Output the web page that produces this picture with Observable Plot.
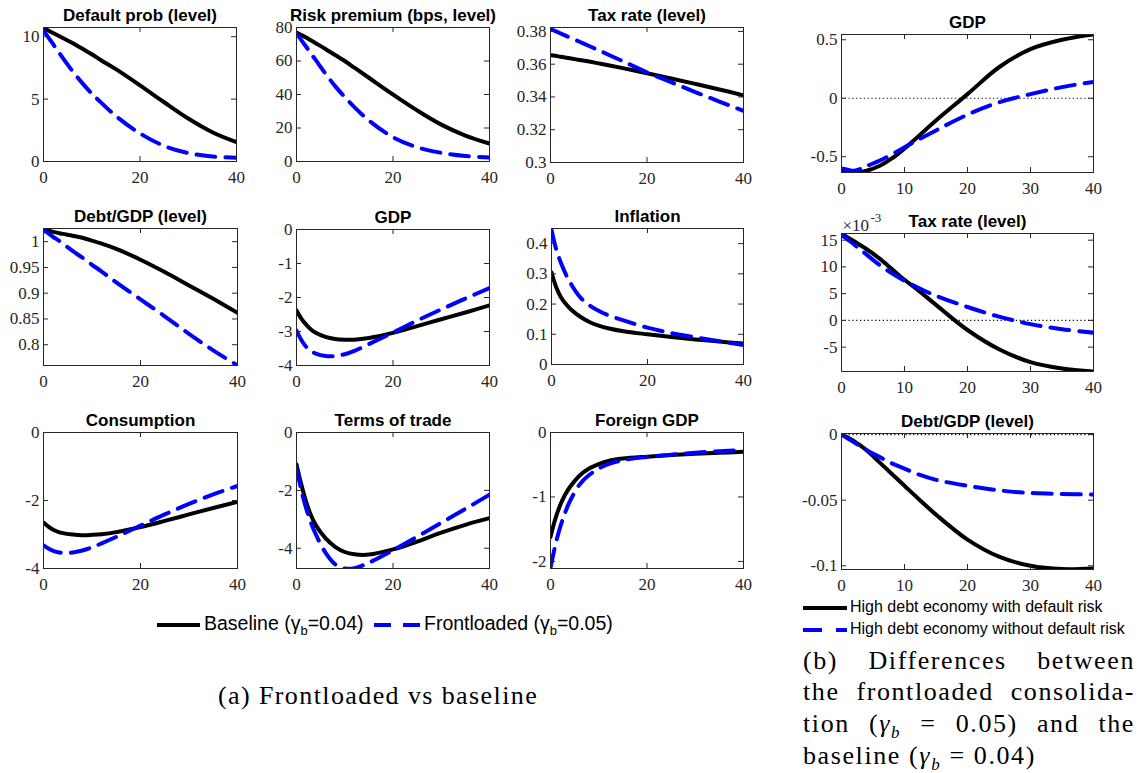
<!DOCTYPE html>
<html><head><meta charset="utf-8">
<script src="https://cdn.jsdelivr.net/npm/d3@7"></script>
<script src="https://cdn.jsdelivr.net/npm/@observablehq/plot@0.6"></script>
<style>
body{margin:0;background:#fff;}
#root{position:relative;width:1142px;height:773px;overflow:hidden;background:#fff;}
.panel{position:absolute;}
.panel text{font-family:'Liberation Serif','Times New Roman',serif;}
.panel g[font-weight="bold"] text{font-family:'Liberation Sans',Arial,sans-serif;}
.lg{position:absolute;font-family:"Liberation Sans",Arial,sans-serif;color:#000;white-space:nowrap;}
.cap{position:absolute;font-family:"Liberation Serif","Times New Roman",serif;color:#000;white-space:nowrap;}
.capline{position:absolute;left:0;width:332px;font-family:"Liberation Serif","Times New Roman",serif;font-size:26px;letter-spacing:1.6px;text-align:justify;text-align-last:justify;white-space:nowrap;}
</style></head><body><div id="root"></div>
<script>
// ---------------- data ----------------
const steps = [0, 1, 2, 3, 4, 6, 8, 10, 12, 15, 20, 25, 30, 35, 40];

// Panel (a): Frontloaded vs baseline
const defaultProbBase  = [10.72, 10.5, 10.3, 10.1, 9.9, 9.5, 9.05, 8.6, 8.1, 7.4, 6.1, 4.75, 3.45, 2.35, 1.55];
const defaultProbFront = [10.5, 9.95, 9.4, 8.85, 8.3, 7.25, 6.3, 5.45, 4.7, 3.65, 2.25, 1.25, 0.68, 0.4, 0.3];
const riskPremBase  = [77, 75.5, 74, 72.3, 70.6, 67.2, 63.6, 60, 56, 50, 40, 30.5, 22, 15.5, 10.7];
const riskPremFront = [76.5, 72.5, 68.5, 64.5, 60.5, 52.5, 45, 38.5, 32.5, 24.5, 14.5, 8.5, 5.2, 3.3, 2.3];
const taxBase  = [0.3655, 0.3651, 0.3646, 0.3641, 0.3636, 0.3626, 0.3616, 0.3605, 0.3594, 0.3576, 0.3545, 0.3513, 0.348, 0.3446, 0.341];
const taxFront = [0.3815, 0.3802, 0.3789, 0.3776, 0.3763, 0.3737, 0.3711, 0.3685, 0.3658, 0.3618, 0.355, 0.349, 0.343, 0.3372, 0.3315];
const debtBase  = [1.022, 1.021, 1.019, 1.017, 1.015, 1.0115, 1.0075, 1.002, 0.996, 0.986, 0.965, 0.941, 0.915, 0.889, 0.862];
const debtFront = [1.022, 1.016, 1.009, 1.003, 0.996, 0.982, 0.969, 0.955, 0.942, 0.921, 0.888, 0.855, 0.821, 0.789, 0.76];
const gdpBase  = [-2.38, -2.62, -2.8, -2.94, -3.04, -3.16, -3.22, -3.24, -3.24, -3.19, -3.04, -2.84, -2.64, -2.44, -2.23];
const gdpFront = [-2.97, -3.25, -3.45, -3.57, -3.65, -3.72, -3.72, -3.67, -3.57, -3.37, -3.03, -2.68, -2.35, -2.03, -1.72];
const inflBase  = [0.305, 0.255, 0.222, 0.2, 0.183, 0.158, 0.14, 0.128, 0.119, 0.11, 0.1, 0.091, 0.083, 0.076, 0.069];
const inflFront = [0.445, 0.38, 0.335, 0.298, 0.268, 0.222, 0.195, 0.176, 0.162, 0.146, 0.122, 0.104, 0.09, 0.077, 0.064];
const consBase  = [-2.65, -2.77, -2.86, -2.92, -2.96, -3.0, -3.02, -3.01, -2.99, -2.93, -2.78, -2.6, -2.41, -2.22, -2.04];
const consFront = [-3.32, -3.41, -3.48, -3.52, -3.54, -3.53, -3.47, -3.38, -3.26, -3.07, -2.74, -2.41, -2.1, -1.82, -1.57];
const totBase  = [-1.1, -1.8, -2.4, -2.86, -3.2, -3.65, -3.95, -4.13, -4.21, -4.22, -4.04, -3.77, -3.46, -3.19, -2.96];
const totFront = [-1.2, -2.0, -2.62, -3.12, -3.52, -4.15, -4.55, -4.7, -4.69, -4.5, -4.07, -3.6, -3.12, -2.64, -2.15];
const forGdpBase  = [-1.62, -1.34, -1.13, -0.97, -0.85, -0.67, -0.56, -0.49, -0.44, -0.405, -0.375, -0.35, -0.33, -0.315, -0.3];
const forGdpFront = [-2.1, -1.75, -1.47, -1.25, -1.07, -0.81, -0.66, -0.56, -0.49, -0.43, -0.38, -0.345, -0.315, -0.29, -0.275];

// Panel (b): differences frontloaded - baseline
const dGdpRisk   = [-0.61, -0.628, -0.635, -0.632, -0.62, -0.58, -0.515, -0.43, -0.335, -0.19, 0.035, 0.265, 0.42, 0.5, 0.545];
const dGdpNoRisk = [-0.6, -0.612, -0.62, -0.605, -0.58, -0.535, -0.48, -0.42, -0.36, -0.275, -0.14, -0.035, 0.035, 0.095, 0.14];
const dTaxRisk   = [16.2, 15.5, 14.8, 14.05, 13.3, 11.6, 9.6, 7.6, 5.8, 2.9, -1.8, -5.4, -7.8, -9.0, -9.55];   // ×10^-3
const dTaxNoRisk = [16.0, 15.1, 14.2, 13.25, 12.3, 10.4, 8.8, 7.4, 6.2, 4.6, 2.5, 0.7, -0.7, -1.65, -2.3];   // ×10^-3
const dDebtRisk   = [0, -0.0023, -0.005, -0.0083, -0.012, -0.021, -0.03, -0.039, -0.048, -0.061, -0.08, -0.093, -0.1, -0.1025, -0.102];
const dDebtNoRisk = [0, -0.003, -0.006, -0.009, -0.012, -0.017, -0.022, -0.026, -0.03, -0.0345, -0.039, -0.0425, -0.0445, -0.0453, -0.0457];

// tick labels
const xTicksA = [0, 20, 40];
const xTicksB = [0, 10, 20, 30, 40];

// ---------------- layout / styles ----------------
const panels = [
  {title:"Default prob (level)",      base:defaultProbBase, front:defaultProbFront, box:[43,27,236,161],  y:[0,10.74],        yt:[0,5,10], xt:xTicksA},
  {title:"Risk premium (bps, level)", base:riskPremBase,   front:riskPremFront,   box:[296,27,489,161], y:[0,80],           yt:[0,20,40,60,80], xt:xTicksA},
  {title:"Tax rate (level)",          base:taxBase,        front:taxFront,        box:[550,27,743,162], y:[0.3,0.3824],     yt:[0.3,0.32,0.34,0.36,0.38], xt:xTicksA},
  {title:"Debt/GDP (level)",          base:debtBase,       front:debtFront,       box:[43,228,237,365], y:[0.7597,1.0255],  yt:[0.8,0.85,0.9,0.95,1], xt:xTicksA},
  {title:"GDP",                       base:gdpBase,        front:gdpFront,        box:[296,229,489,365],y:[-4,0],           yt:[-4,-3,-2,-1,0], xt:xTicksA},
  {title:"Inflation",                 base:inflBase,       front:inflFront,       box:[551,228,743,364],y:[0,0.45],         yt:[0,0.1,0.2,0.3,0.4], xt:xTicksA},
  {title:"Consumption",               base:consBase,       front:consFront,       box:[43,432,237,568], y:[-4,0],           yt:[-4,-2,0], xt:xTicksA},
  {title:"Terms of trade",            base:totBase,        front:totFront,        box:[296,432,489,568],y:[-4.7,0],         yt:[-4,-2,0], xt:xTicksA},
  {title:"Foreign GDP",               base:forGdpBase,     front:forGdpFront,     box:[550,432,743,568],y:[-2.11,0],        yt:[-2,-1,0], xt:xTicksA},
  {title:"GDP",                       base:dGdpRisk,       front:dGdpNoRisk,      box:[841,34,1093,172],y:[-0.635,0.545],   yt:[-0.5,0,0.5], xt:xTicksB, zero:true},
  {title:"Tax rate (level)",          base:dTaxRisk,       front:dTaxNoRisk,      box:[841,233,1093,371],y:[-9.56,16.25],   yt:[-5,0,5,10,15], xt:xTicksB, zero:true, exp:true},
  {title:"Debt/GDP (level)",          base:dDebtRisk,      front:dDebtNoRisk,     box:[841,433,1093,569],y:[-0.1028,0.0008],yt:[-0.1,-0.05,0], xt:xTicksB, zero:true}
];

const AX = "#262626";
const SERIF = "'Liberation Serif', 'Times New Roman', serif";
const SANS = "'Liberation Sans', Arial, sans-serif";
const root = document.getElementById("root");

function makePanel(cfg){
  const mL = 70, mR = 14, mT = 34, mB = 32;
  const [x0,y0,x1,y1] = cfg.box;
  const w = x1 - x0, h = y1 - y0, tl = 5;
  const data = steps.map((t,i) => ({t, base: cfg.base[i], front: cfg.front[i]}));
  const marks = [];
  if (cfg.zero) marks.push(Plot.ruleY([0], {stroke:"#000", strokeWidth:1.2, strokeDasharray:"1.2,2.6"}));
  marks.push(
    Plot.line(data, {x:"t", y:"base", stroke:"#000", strokeWidth:4, curve:"catmull-rom", clip:true}),
    Plot.line(data, {x:"t", y:"front", stroke:"#0000ff", strokeWidth:4, strokeDasharray:"19,10", curve:"catmull-rom", clip:true}),
    Plot.frame({stroke:AX, strokeWidth:1}),
    Plot.tickY(cfg.yt, {y:d=>d, stroke:AX, insetRight:w-tl}),
    Plot.tickY(cfg.yt, {y:d=>d, stroke:AX, insetLeft:w-tl}),
    Plot.tickX(cfg.xt, {x:d=>d, stroke:AX, insetTop:h-tl}),
    Plot.tickX(cfg.xt, {x:d=>d, stroke:AX, insetBottom:h-tl}),
    Plot.axisY(cfg.yt, {tickSize:0, tickPadding:4, label:null, fontSize:17, fontFamily:SERIF, color:AX, tickFormat:d=>String(d)}),
    Plot.axisX(cfg.xt, {tickSize:0, tickPadding:9, label:null, fontSize:17, fontFamily:SERIF, color:AX, tickFormat:d=>String(d)}),
    Plot.text([cfg.title], {frameAnchor:"top", dy:-7, lineAnchor:"bottom", fontWeight:"bold", fontSize:17, fontFamily:SANS, fill:"#000"})
  );
  if (cfg.exp){
    marks.push(
      Plot.text(["×10"], {frameAnchor:"top-left", dx:1, dy:-3, lineAnchor:"bottom", textAnchor:"start", fontSize:17, fontFamily:SERIF, fill:AX}),
      Plot.text(["-3"], {frameAnchor:"top-left", dx:29, dy:-12, lineAnchor:"bottom", textAnchor:"start", fontSize:13, fontFamily:SERIF, fill:AX})
    );
  }
  const svg = Plot.plot({
    width: w + mL + mR, height: h + mT + mB,
    marginLeft: mL, marginRight: mR, marginTop: mT, marginBottom: mB,
    x: {domain:[0,40], label:null},
    y: {domain: cfg.y, label:null},
    style: {background:"transparent", overflow:"visible", fontFamily:SERIF, fontSize:"17px", color:AX},
    marks
  });
  svg.classList.add("panel");
  svg.style.left = (x0 - mL) + "px";
  svg.style.top = (y0 - mT) + "px";
  root.appendChild(svg);
}
panels.forEach(makePanel);

// ---------------- legends & captions ----------------
function addHTML(html){ const d = document.createElement("div"); d.innerHTML = html; while (d.firstChild) root.appendChild(d.firstChild); }
addHTML(`
<svg style="position:absolute;left:0;top:0" width="1142" height="773">
  <line x1="157" y1="625" x2="200" y2="625" stroke="#000" stroke-width="4"/>
  <line x1="374" y1="625" x2="420" y2="625" stroke="#0000ff" stroke-width="4" stroke-dasharray="17,12"/>
  <line x1="803" y1="608" x2="847" y2="608" stroke="#000" stroke-width="4"/>
  <line x1="803" y1="630" x2="847" y2="630" stroke="#0000ff" stroke-width="4" stroke-dasharray="19,14"/>
</svg>
<div class="lg" style="left:204px;top:612px;font-size:19.5px;">Baseline (γ<sub style="font-size:13px">b</sub>=0.04)</div>
<div class="lg" style="left:424px;top:612px;font-size:19.5px;">Frontloaded (γ<sub style="font-size:13px">b</sub>=0.05)</div>
<div class="lg" style="left:850px;top:598px;font-size:16px;">High debt economy with default risk</div>
<div class="lg" style="left:850px;top:620px;font-size:16px;">High debt economy without default risk</div>
<div class="cap" style="left:218px;top:681px;font-size:26px;letter-spacing:1.4px;">(a) Frontloaded vs baseline</div>
<div style="position:absolute;left:803px;top:646px;width:332px;height:127px;">
  <div class="capline" style="top:0px">(b) Differences between</div>
  <div class="capline" style="top:31px">the frontloaded consolida-</div>
  <div class="capline" style="top:63px">tion (<i>γ<sub style="font-size:17px">b</sub></i> = 0.05) and the</div>
  <div class="capline" style="top:95px;text-align-last:left">baseline (<i>γ<sub style="font-size:17px">b</sub></i> = 0.04)</div>
</div>
`);
</script>
</body></html>
